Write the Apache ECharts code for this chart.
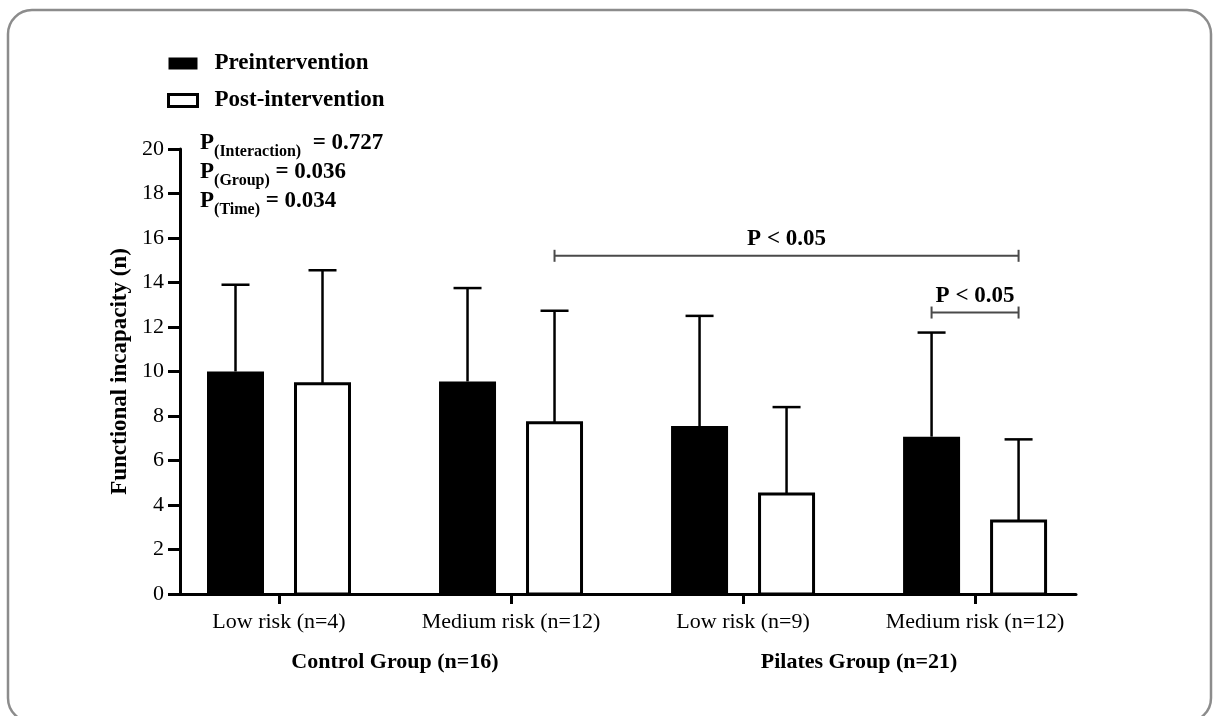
<!DOCTYPE html>
<html><head><meta charset="utf-8">
<script src="https://cdn.jsdelivr.net/npm/echarts@6/dist/echarts.min.js"></script>
<style>html,body{margin:0;padding:0;background:#fff}#c{width:1219px;height:716px}</style>
</head><body><div id="c"></div>
<script>
// ---------------- data ----------------
const categories = ['Low risk (n=4)', 'Medium risk (n=12)', 'Low risk (n=9)', 'Medium risk (n=12)'];
const groupLabels = ['Control Group (n=16)', 'Pilates Group (n=21)'];
const groupCenters = [0.5, 2.5];
const seriesNames = ['Preintervention', 'Post-intervention'];
const preMean = [10.0, 9.55, 7.55, 7.07];
const preSD = [3.9, 4.2, 4.95, 4.68];
const postMean = [9.45, 7.7, 4.5, 3.28];
const postSD = [5.1, 5.03, 3.9, 3.67];
const yMin = 0, yMax = 20, yStep = 2;
// significance brackets: [fromCategory, fromSide(-1 pre / +1 post), toCategory, toSide, yLevel]
const bracketRows = [[1, 1, 3, 1, 15.2], [3, -1, 3, 1, 12.65]];
const bracketLabels = ['P < 0.05', 'P < 0.05'];
const statSubs = ['(Interaction)', '(Group)', '(Time)'];
const statValues = ['  = 0.727', ' = 0.036', ' = 0.034'];

// ---------------- styles / layout ----------------
const FONT = '"Liberation Serif", "Times New Roman", serif';
const HALF = 43.5;      // px offset of bar centre from category tick
const BAR_W = 57;
const CAP = 14;
const X_MIN = -0.4267, X_MAX = 3.435;

function barRenderer(side, filled) {
  return function (params, api) {
    const c = api.value(0), m = api.value(1), sd = api.value(2);
    const base = api.coord([c, 0]);
    const top = api.coord([c, m]);
    const up = api.coord([c, m + sd]);
    const cx = base[0] + side * HALF;
    const children = [
      {type: 'line', shape: {x1: cx, y1: top[1], x2: cx, y2: up[1]}, style: {stroke: '#000', lineWidth: 2.5}},
      {type: 'line', shape: {x1: cx - CAP, y1: up[1], x2: cx + CAP, y2: up[1]}, style: {stroke: '#000', lineWidth: 2.5}}
    ];
    if (filled) {
      children.push({type: 'rect', shape: {x: cx - BAR_W / 2, y: top[1], width: BAR_W, height: base[1] - top[1]}, style: {fill: '#000'}});
    } else {
      children.push({type: 'rect', shape: {x: cx - BAR_W / 2 + 1.5, y: top[1], width: BAR_W - 3, height: base[1] - top[1]}, style: {fill: '#fff', stroke: '#000', lineWidth: 3}});
    }
    return {type: 'group', children};
  };
}

function bracketRenderer(params, api) {
  const i = params.dataIndex;
  const p1 = api.coord([api.value(0), api.value(4)]);
  const p2 = api.coord([api.value(2), api.value(4)]);
  const x1 = p1[0] + api.value(1) * HALF;
  const x2 = p2[0] + api.value(3) * HALF;
  const y = p1[1];
  const st = {stroke: '#4a4a4a', lineWidth: 2};
  return {type: 'group', children: [
    {type: 'line', shape: {x1, y1: y, x2, y2: y}, style: st},
    {type: 'line', shape: {x1, y1: y - 6, x2: x1, y2: y + 6}, style: st},
    {type: 'line', shape: {x1: x2, y1: y - 6, x2, y2: y + 6}, style: st},
    {type: 'text', style: {text: bracketLabels[i], x: (x1 + x2) / 2, y: y - 5, align: 'center', verticalAlign: 'bottom',
      font: 'bold 23px ' + FONT, fill: '#000'}}
  ]};
}

const statGraphics = statSubs.map((s, i) => ({
  type: 'text', left: 200, top: 132 + i * 29,
  style: {
    text: '{p|P}{s|' + s + '}{p|' + statValues[i] + '}',
    rich: {
      p: {fontFamily: FONT, fontWeight: 'bold', fontSize: 23, lineHeight: 26, fill: '#000'},
      s: {fontFamily: FONT, fontWeight: 'bold', fontSize: 16, lineHeight: 16, verticalAlign: 'bottom', padding: [0, 0, -3, 0], fill: '#000'}
    }
  }
}));

const chart = echarts.init(document.getElementById('c'));
chart.setOption({
  backgroundColor: '#fff',
  animation: false,
  grid: {left: 180, right: 1219 - 1076, top: 149, bottom: 716 - 594, containLabel: false},
  legend: {
    orient: 'vertical', left: 167, top: 52, padding: 0, itemWidth: 29, itemHeight: 12, itemGap: 14,
    textStyle: {fontFamily: FONT, fontWeight: 'bold', fontSize: 23, color: '#000', padding: [0, 0, 0, 12]},
    data: [
      {name: seriesNames[0], icon: 'rect', itemStyle: {color: '#000', borderWidth: 0}},
      {name: seriesNames[1], icon: 'rect', itemStyle: {color: '#fff', borderColor: '#000', borderWidth: 3}}
    ]
  },
  xAxis: [
    {
      type: 'value', min: X_MIN, max: X_MAX, position: 'bottom',
      axisLine: {show: true, onZero: false, lineStyle: {color: '#000', width: 3}},
      splitLine: {show: false},
      axisTick: {show: true, customValues: [0, 1, 2, 3], length: 10, lineStyle: {color: '#000', width: 3}},
      axisLabel: {customValues: [0, 1, 2, 3], formatter: v => categories[Math.round(v)] || '',
        fontFamily: FONT, fontSize: 22, color: '#000', margin: 17}
    },
    {
      type: 'value', min: X_MIN, max: X_MAX, position: 'bottom', offset: 40,
      axisLine: {show: false}, axisTick: {show: false}, splitLine: {show: false},
      axisLabel: {customValues: groupCenters, formatter: v => groupLabels[groupCenters.indexOf(v)] || '',
        fontFamily: FONT, fontSize: 22, fontWeight: 'bold', color: '#000', margin: 17}
    }
  ],
  yAxis: {
    type: 'value', min: yMin, max: yMax, interval: yStep,
    name: 'Functional incapacity (n)', nameLocation: 'middle', nameGap: 43,
    nameTextStyle: {fontFamily: FONT, fontWeight: 'bold', fontSize: 23, color: '#000'},
    axisLine: {show: true, onZero: false, lineStyle: {color: '#000', width: 3}},
    axisTick: {show: true, length: 12, lineStyle: {color: '#000', width: 3}},
    axisLabel: {fontFamily: FONT, fontSize: 22, color: '#000', margin: 16},
    splitLine: {show: false}
  },
  series: [
    {name: seriesNames[0], type: 'custom', xAxisIndex: 0, renderItem: barRenderer(-1, true),
      itemStyle: {color: '#000'},
      data: categories.map((_, i) => [i, preMean[i], preSD[i]])},
    {name: seriesNames[1], type: 'custom', xAxisIndex: 0, renderItem: barRenderer(1, false),
      itemStyle: {color: '#fff', borderColor: '#000', borderWidth: 3},
      data: categories.map((_, i) => [i, postMean[i], postSD[i]])},
    {name: 'brackets', type: 'custom', xAxisIndex: 0, renderItem: bracketRenderer, silent: true,
      data: bracketRows}
  ],
  graphic: [
    {type: 'rect', shape: {x: 8, y: 10, width: 1203, height: 712, r: 24},
      style: {fill: 'none', stroke: '#8c8c8c', lineWidth: 2.5}, silent: true}
  ].concat(statGraphics)
});
</script>
</body></html>
